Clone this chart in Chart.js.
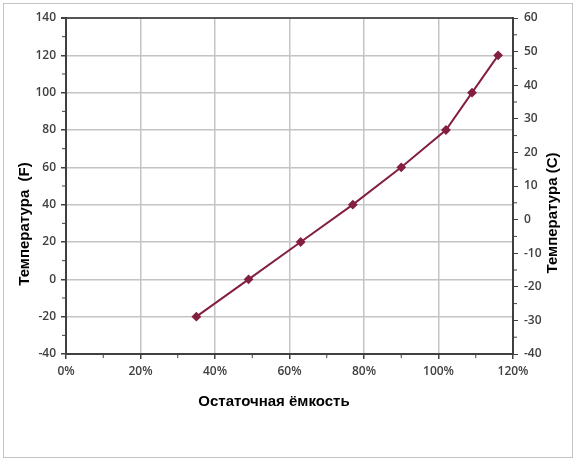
<!DOCTYPE html>
<html lang="ru">
<head>
    <meta charset="UTF-8">
    <title>Температура и остаточная ёмкость</title>
    <style>
        body {
            margin: 0;
            background: white;
        }
        .frame {
            position: absolute;
            left: 3px;
            top: 3px;
            width: 568px;
            height: 453px;
            border: 1.5px solid #c4c4c4;
        }
        .wrap {
            position: absolute;
            left: 0;
            top: 0;
            width: 576px;
            height: 463px;
        }
    </style>
</head>
<body>
    <div class="frame"></div>
    <div class="wrap"><canvas id="tempChart"></canvas></div>

    <script src="https://cdn.jsdelivr.net/npm/chart.js"></script>
    <script>
        // values
        const capacity = [35, 49, 63, 77, 90, 102, 109, 116];   // %
        const tempF = [-20, 0, 20, 40, 60, 80, 100, 120];

        const xTitle = 'Остаточная ёмкость';
        const yTitleLeft = 'Температура  (F)';
        const yTitleRight = 'Температура (C)';

        const lineColor = '#84203f';
        const axisColor = '#404040';
        const gridColor = '#c4c4c4';
        const tickFont = { family: '"Open Sans"', size: 12, weight: '600' };

        // small minor ticks between the labelled ones, like Excel does
        const minorTicks = {
            id: 'minorTicks',
            afterDraw(chart) {
                const ctx = chart.ctx;
                const area = chart.chartArea;
                ctx.save();
                ctx.strokeStyle = axisColor;
                ctx.lineWidth = 1;
                ctx.beginPath();
                for (let v = 10; v < 120; v += 20) {
                    const px = chart.scales.x.getPixelForValue(v);
                    ctx.moveTo(px, area.bottom);
                    ctx.lineTo(px, area.bottom + 4);
                }
                for (let v = -30; v < 140; v += 20) {
                    const py = chart.scales.y.getPixelForValue(v);
                    ctx.moveTo(area.left, py);
                    ctx.lineTo(area.left - 4, py);
                }
                for (let v = -35; v < 60; v += 10) {
                    const py = chart.scales.y2.getPixelForValue(v);
                    ctx.moveTo(area.right, py);
                    ctx.lineTo(area.right + 4, py);
                }
                ctx.stroke();
                ctx.restore();
            }
        };

        // axis titles placed where the original has them
        const axisTitles = {
            id: 'axisTitles',
            afterDraw(chart) {
                const ctx = chart.ctx;
                const area = chart.chartArea;
                ctx.save();
                ctx.fillStyle = '#000';
                ctx.font = 'bold 15px "Liberation Sans"';
                ctx.textAlign = 'center';
                ctx.textBaseline = 'middle';
                ctx.fillText(xTitle, 274, area.bottom + 48);

                ctx.translate(area.left - 41, 224);
                ctx.rotate(-Math.PI / 2);
                ctx.fillText(yTitleLeft, 0, 0);
                ctx.restore();

                ctx.save();
                ctx.fillStyle = '#000';
                ctx.font = 'bold 15px "Liberation Sans"';
                ctx.textAlign = 'center';
                ctx.textBaseline = 'middle';
                ctx.translate(area.right + 40, 213);
                ctx.rotate(-Math.PI / 2);
                ctx.fillText(yTitleRight, 0, 0);
                ctx.restore();
            }
        };

        new Chart(document.getElementById('tempChart'), {
            type: 'line',
            data: {
                datasets: [{
                    data: capacity.map((c, i) => ({ x: c, y: tempF[i] })),
                    borderColor: lineColor,
                    backgroundColor: lineColor,
                    borderWidth: 2,
                    pointStyle: 'rectRot',
                    pointRadius: 3.5,
                    tension: 0,
                    yAxisID: 'y'
                }]
            },
            options: {
                responsive: true,
                maintainAspectRatio: false,
                animation: false,
                layout: { padding: { top: 18, left: 0, right: 0, bottom: 0 } },
                plugins: {
                    legend: { display: false },
                    tooltip: { enabled: false }
                },
                scales: {
                    x: {
                        type: 'linear',
                        min: 0,
                        max: 120,
                        afterFit: s => { s.height = 109; },
                        ticks: {
                            stepSize: 20,
                            color: axisColor,
                            font: tickFont,
                            padding: 5,
                            callback: v => v + '%'
                        },
                        grid: {
                            color: gridColor,
                            lineWidth: 1.5,
                            tickLength: 5,
                            tickColor: axisColor
                        },
                        border: { color: axisColor, width: 2 }
                    },
                    y: {
                        position: 'left',
                        min: -40,
                        max: 140,
                        afterFit: s => { s.width = 66; },
                        ticks: {
                            stepSize: 20,
                            color: axisColor,
                            font: tickFont,
                            padding: 5
                        },
                        grid: {
                            color: c => c.tick && c.tick.value === 140 ? '#555' : gridColor,
                            lineWidth: c => c.tick && c.tick.value === 140 ? 2 : 1.5,
                            tickLength: 5,
                            tickColor: axisColor
                        },
                        border: { color: axisColor, width: 2 }
                    },
                    y2: {
                        position: 'right',
                        min: -40,
                        max: 60,
                        afterFit: s => { s.width = 63; },
                        ticks: {
                            stepSize: 10,
                            color: axisColor,
                            font: tickFont,
                            padding: 6
                        },
                        grid: {
                            drawOnChartArea: false,
                            tickLength: 5,
                            tickColor: axisColor
                        },
                        border: { color: axisColor, width: 2 }
                    }
                }
            },
            plugins: [minorTicks, axisTitles]
        });
    </script>
</body>
</html>
